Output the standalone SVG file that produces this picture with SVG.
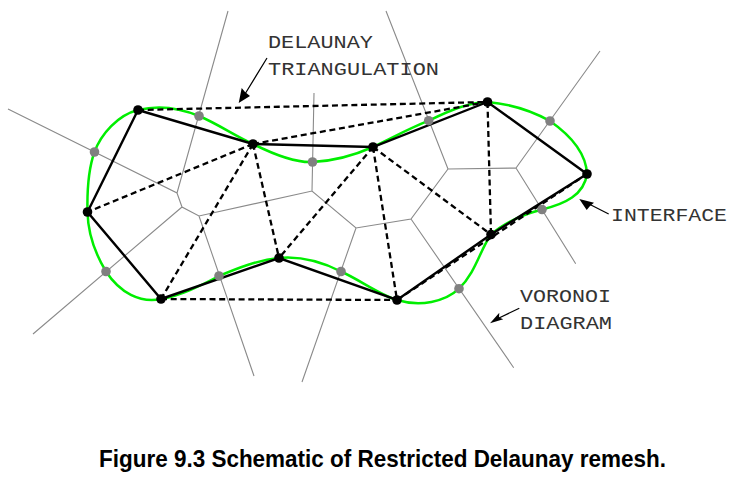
<svg xmlns="http://www.w3.org/2000/svg" width="736" height="480" viewBox="0 0 736 480">
<style>
.v{fill:none;stroke:#8a8a8a;stroke-width:1.1}
.g{fill:none;stroke:#00ee00;stroke-width:2.5}
.s{fill:none;stroke:#000;stroke-width:2.4}
.d{fill:none;stroke:#000;stroke-width:2.3;stroke-dasharray:6 3.700}
.a{fill:none;stroke:#000;stroke-width:1.200}
.h{fill:#000}
.n{fill:#000}
.m{fill:#808080}
.t{font-family:"Liberation Mono",monospace;font-size:18px;fill:#333}
.c{font-family:"Liberation Sans",Arial,sans-serif;font-size:24px;font-weight:bold;fill:#000}
</style>
<g id="voronoi">
<path class="v" d="M8 109L177 193L182 207L199 216L312 191L356 228L411 219L448 169L516 168L600 51M177 193L228 11M182 207L33 334M199 216L254 376M312 191L314 93M356 228L302 382M411 219L513.700 367.700M448 169L386 11M516 168L575.700 263.700"/>
</g>
<g id="interface">
<path class="g" d="M161 299C140 303 120 293 106 271.500C96 255 88 235 87.500 212C87 190 88 170 94.500 152C101 134 118 115 138 110C158 105 180 108 199 116C218 124 235 136 253 144C275 155 295 163 312.500 162C335 161 355 155 373 147C392 138 408 129 428.700 120.700C447 112 465 103 487.500 102C510 104 532 111 550 121C570 135 586 152 587 174C584 195 565 204 542 209.500C525 214 505 222 491 234.500C480 250 476 272 459 288.700C445 302 420 307 397 300C380 295 360 280 341 271.500C322 262 300 256 279 258C258 260 238 268 219 276C200 286 180 296 161 299Z"/>
</g>
<g id="connectors">
<path class="d" d="M138 110L487.500 102M253 144L487.500 102M253 144L87.500 212M253 144L161 299M253 144L279 258M373 147L279 258M373 147L397 300M373 147L491 234.500M487.500 102L491 234.500M161 299L397 300M397 300L587 174"/>
<path class="s" d="M138 110L87.500 212L161 299L279 258L397 300L491 234.500L587 174L487.500 102L373 147L253 144L138 110Z"/>
<path class="a" d="M267 58L245 94M608.700 214L589 204M519.300 308.300L499 318"/>
<path class="h" d="M238.700 103L241.700 88L245 92L250 96ZM579.300 199L594 202.700L590 206L586.700 210ZM490 323.300L499.300 312.700L499 317.500L503.300 319.300Z"/>
</g>
<g id="vertices">
<circle class="n" cx="138" cy="110" r="4.800"/><circle class="n" cx="87.500" cy="212" r="4.800"/><circle class="n" cx="161" cy="299" r="4.800"/><circle class="n" cx="279" cy="258" r="4.800"/><circle class="n" cx="397" cy="300" r="4.800"/><circle class="n" cx="491" cy="234.500" r="4.800"/><circle class="n" cx="587" cy="174" r="4.800"/><circle class="n" cx="487.500" cy="102" r="4.800"/><circle class="n" cx="373" cy="147" r="4.800"/><circle class="n" cx="253" cy="144" r="4.800"/>
</g>
<g id="samples">
<circle class="m" cx="94.500" cy="152" r="4.800"/><circle class="m" cx="199" cy="116" r="4.800"/><circle class="m" cx="312.500" cy="162" r="4.800"/><circle class="m" cx="428.700" cy="120.700" r="4.800"/><circle class="m" cx="550" cy="121" r="4.800"/><circle class="m" cx="542" cy="209.500" r="4.800"/><circle class="m" cx="459" cy="288.700" r="4.800"/><circle class="m" cx="341" cy="271.500" r="4.800"/><circle class="m" cx="219" cy="276" r="4.800"/><circle class="m" cx="106" cy="271.500" r="4.800"/>
</g>
<g id="labels">
<text class="t" x="268" y="48" textLength="105" lengthAdjust="spacingAndGlyphs">DELAUNAY</text>
<text class="t" x="268" y="75" textLength="171" lengthAdjust="spacingAndGlyphs">TRIANGULATION</text>
<text class="t" x="611" y="220.500" textLength="116" lengthAdjust="spacingAndGlyphs">INTERFACE</text>
<text class="t" x="520" y="302" textLength="91" lengthAdjust="spacingAndGlyphs">VORONOI</text>
<text class="t" x="520" y="329" textLength="92" lengthAdjust="spacingAndGlyphs">DIAGRAM</text>
<text class="c" x="99" y="467" textLength="567" lengthAdjust="spacingAndGlyphs">Figure 9.3 Schematic of Restricted Delaunay remesh.</text>
</g>
</svg>
